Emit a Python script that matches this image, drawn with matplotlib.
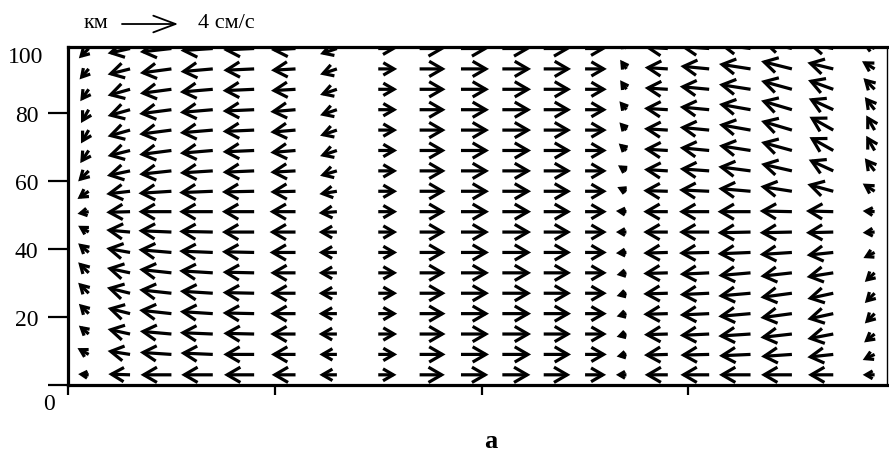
import numpy as np
import matplotlib
matplotlib.use("Agg")
import matplotlib.pyplot as plt

plt.rcParams['font.family'] = ['Liberation Serif', 'DejaVu Serif']

# grid (km): columns along x, rows from top (99) to bottom (3)
x_km = [10, 30, 50, 70, 90, 110, 130, 150, 170, 190,
        210, 230, 250, 270, 290, 310, 330, 350, 370, 390]
y_km = [99, 93, 87, 81, 75, 69, 63, 57, 51, 45, 39, 33, 27, 21, 15, 9, 3]

# velocity components (cm/s), one list per column, rows top -> bottom
u_cols = [
    [-0.70, -0.65, -0.60, -0.55, -0.55, -0.60, -0.75, -0.80, -0.80, -0.75, -0.75, -0.75, -0.75, -0.70, -0.70, -0.80, -0.75],
    [-1.60, -1.60, -1.60, -1.60, -1.60, -1.60, -1.65, -1.70, -1.70, -1.70, -1.70, -1.65, -1.65, -1.60, -1.60, -1.60, -1.55],
    [-2.25, -2.25, -2.25, -2.30, -2.30, -2.30, -2.30, -2.35, -2.35, -2.35, -2.35, -2.30, -2.30, -2.30, -2.25, -2.25, -2.20],
    [-2.30, -2.30, -2.35, -2.35, -2.35, -2.35, -2.35, -2.40, -2.40, -2.40, -2.40, -2.40, -2.35, -2.35, -2.35, -2.30, -2.25],
    [-2.20, -2.20, -2.25, -2.25, -2.25, -2.25, -2.25, -2.30, -2.30, -2.30, -2.30, -2.25, -2.25, -2.25, -2.20, -2.20, -2.15],
    [-1.75, -1.75, -1.75, -1.80, -1.80, -1.80, -1.80, -1.80, -1.85, -1.85, -1.85, -1.80, -1.80, -1.80, -1.80, -1.75, -1.70],
    [-1.20, -1.20, -1.20, -1.20, -1.20, -1.20, -1.20, -1.25, -1.30, -1.30, -1.30, -1.30, -1.30, -1.30, -1.30, -1.25, -1.25],
    [1.30, 1.35, 1.35, 1.35, 1.35, 1.35, 1.35, 1.35, 1.35, 1.35, 1.35, 1.35, 1.35, 1.35, 1.35, 1.35, 1.30],
    [1.80, 1.85, 1.85, 1.85, 1.85, 1.85, 1.85, 1.85, 1.85, 1.85, 1.85, 1.85, 1.85, 1.85, 1.85, 1.85, 1.80],
    [1.95, 2.00, 2.00, 2.00, 2.00, 2.00, 2.00, 2.00, 2.00, 2.00, 2.00, 2.00, 2.00, 2.00, 2.00, 2.00, 1.95],
    [2.00, 2.05, 2.05, 2.05, 2.05, 2.05, 2.05, 2.05, 2.05, 2.05, 2.05, 2.05, 2.05, 2.05, 2.05, 2.05, 2.00],
    [1.90, 1.95, 1.95, 1.95, 1.95, 1.95, 1.95, 1.95, 1.95, 1.95, 1.95, 1.95, 1.95, 1.95, 1.95, 1.95, 1.90],
    [1.50, 1.55, 1.55, 1.55, 1.55, 1.55, 1.55, 1.55, 1.55, 1.55, 1.55, 1.55, 1.55, 1.55, 1.55, 1.55, 1.50],
    [-0.45, -0.45, -0.45, -0.50, -0.50, -0.55, -0.60, -0.65, -0.75, -0.75, -0.75, -0.70, -0.70, -0.70, -0.70, -0.70, -0.75],
    [-1.65, -1.65, -1.65, -1.70, -1.70, -1.70, -1.70, -1.75, -1.75, -1.75, -1.75, -1.75, -1.75, -1.75, -1.70, -1.70, -1.65],
    [-2.05, -2.05, -2.10, -2.10, -2.10, -2.10, -2.10, -2.15, -2.15, -2.15, -2.15, -2.10, -2.10, -2.10, -2.10, -2.05, -2.05],
    [-2.25, -2.25, -2.25, -2.25, -2.25, -2.25, -2.30, -2.30, -2.35, -2.35, -2.35, -2.30, -2.30, -2.30, -2.30, -2.25, -2.25],
    [-2.15, -2.20, -2.20, -2.20, -2.20, -2.20, -2.20, -2.25, -2.30, -2.30, -2.30, -2.25, -2.25, -2.25, -2.25, -2.20, -2.20],
    [-1.85, -1.85, -1.80, -1.75, -1.70, -1.70, -1.75, -1.85, -1.95, -1.95, -1.90, -1.90, -1.85, -1.85, -1.85, -1.85, -1.80],
    [-0.90, -0.90, -0.80, -0.70, -0.60, -0.60, -0.70, -0.85, -0.85, -0.85, -0.80, -0.70, -0.70, -0.70, -0.75, -0.85, -0.85],
]
v_cols = [
    [-0.70, -0.75, -0.85, -0.95, -0.95, -0.90, -0.75, -0.55, -0.15, 0.45, 0.65, 0.75, 0.75, 0.70, 0.60, 0.45, 0.05],
    [-0.35, -0.40, -0.45, -0.45, -0.45, -0.40, -0.35, -0.20, -0.05, 0.15, 0.30, 0.35, 0.40, 0.40, 0.35, 0.25, 0.05],
    [-0.25, -0.30, -0.30, -0.30, -0.30, -0.30, -0.25, -0.15, 0.00, 0.10, 0.20, 0.25, 0.25, 0.25, 0.20, 0.15, 0.00],
    [-0.15, -0.20, -0.20, -0.20, -0.20, -0.20, -0.15, -0.10, 0.00, 0.05, 0.10, 0.15, 0.15, 0.15, 0.10, 0.10, 0.00],
    [-0.10, -0.10, -0.10, -0.10, -0.10, -0.10, -0.10, -0.05, 0.00, 0.00, 0.05, 0.05, 0.05, 0.05, 0.05, 0.00, 0.00],
    [-0.10, -0.10, -0.10, -0.15, -0.15, -0.15, -0.10, -0.05, 0.00, 0.00, 0.00, 0.00, 0.00, 0.00, 0.00, 0.00, 0.00],
    [-0.40, -0.40, -0.40, -0.40, -0.40, -0.40, -0.35, -0.20, -0.10, 0.00, 0.00, 0.00, 0.00, 0.00, 0.00, 0.00, 0.00],
    [0.00] * 17,
    [0.00] * 17,
    [0.00] * 17,
    [0.00] * 17,
    [0.00] * 17,
    [0.00] * 17,
    [0.65, 0.65, 0.65, 0.60, 0.55, 0.50, 0.40, 0.30, 0.05, 0.00, -0.05, -0.15, -0.20, -0.20, -0.20, -0.15, 0.00],
    [0.10, 0.10, 0.10, 0.10, 0.10, 0.10, 0.10, 0.05, 0.00, 0.00, -0.05, -0.05, -0.05, -0.05, -0.05, -0.05, 0.00],
    [0.15, 0.20, 0.20, 0.20, 0.20, 0.20, 0.15, 0.10, 0.00, 0.00, -0.05, -0.10, -0.10, -0.10, -0.10, -0.05, 0.00],
    [0.30, 0.35, 0.35, 0.40, 0.40, 0.35, 0.30, 0.20, 0.00, -0.05, -0.10, -0.20, -0.20, -0.20, -0.15, -0.10, 0.00],
    [0.50, 0.55, 0.60, 0.65, 0.65, 0.60, 0.50, 0.35, 0.05, -0.05, -0.15, -0.25, -0.30, -0.30, -0.25, -0.15, 0.00],
    [0.35, 0.45, 0.65, 0.80, 0.95, 0.95, 0.80, 0.50, 0.05, -0.05, -0.20, -0.30, -0.40, -0.40, -0.35, -0.20, 0.00],
    [0.40, 0.55, 0.80, 0.90, 1.05, 1.05, 0.90, 0.55, 0.05, -0.05, -0.40, -0.65, -0.70, -0.70, -0.60, -0.40, 0.00],
]

key_speed = 4          # cm/s
x_ticks = [0, 100, 200, 300]
y_ticks = [0, 20, 40, 60, 80]
y_ticklabels = ['', '20', '40', '60', '80']

pt_per_cms = 10.1      # arrow length in points for 1 cm/s

fig = plt.figure(figsize=(8.89, 4.52), dpi=100)
ax = fig.add_axes([0.0765, 0.146, 0.9213, 0.7467])
ax.set_xlim(0, 396)
ax.set_ylim(0, 99.3)

for i, x in enumerate(x_km):
    for j, y in enumerate(y_km):
        u, v = u_cols[i][j], v_cols[i][j]
        s = np.hypot(u, v)
        ms = min(10.0, 6.0 * s)
        a = ax.annotate('', xy=(x, y), xytext=(u * pt_per_cms, v * pt_per_cms),
                        textcoords='offset points', zorder=1,
                        arrowprops=dict(arrowstyle='<-,head_length=0.95,head_width=0.55',
                                        lw=2.3, color='black', shrinkA=0, shrinkB=0,
                                        mutation_scale=ms, joinstyle='miter',
                                        capstyle='butt'))
        a.arrow_patch.set_clip_box(ax.bbox)
        a.arrow_patch.set_clip_on(True)

# reference arrow
ax.annotate('', xy=(0.0659, 1.0696), xycoords='axes fraction',
            xytext=(key_speed * pt_per_cms, 0), textcoords='offset points',
            arrowprops=dict(arrowstyle='<-,head_length=1.6,head_width=0.6',
                            lw=1.3, color='black', shrinkA=0, shrinkB=0))
ax.text(0.0488, 1.0593, 'км', transform=ax.transAxes, ha='right', va='baseline', fontsize=16)
ax.text(0.1587, 1.0593, '%d см/с' % key_speed, transform=ax.transAxes,
        ha='left', va='baseline', fontsize=16)

ax.set_xticks(x_ticks)
ax.set_xticklabels([])
ax.set_yticks(y_ticks)
ax.set_yticklabels(y_ticklabels, fontsize=17)
ax.tick_params(axis='y', length=14.4, width=1.6, pad=7)
ax.tick_params(axis='x', length=7, width=1.6)
ax.text(-0.0305, 0.972, '100', transform=ax.transAxes, ha='right', va='center', fontsize=17)
ax.text(-0.0232, -0.0534, '0', transform=ax.transAxes, ha='center', va='center', fontsize=17)

for side in ['left', 'top', 'bottom']:
    ax.spines[side].set_linewidth(2.3)
    ax.spines[side].set_zorder(3)
ax.spines['right'].set_linewidth(1.0)

fig.text(491 / 889, 1 - 442 / 452, 'a', ha='center', va='center', fontsize=19, fontweight='bold')

fig.savefig('out.png', dpi=100)
